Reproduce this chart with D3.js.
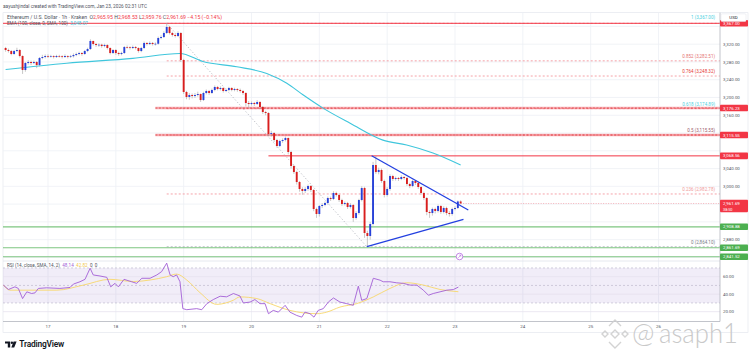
<!DOCTYPE html>
<html><head><meta charset="utf-8">
<script src="https://cdn.jsdelivr.net/npm/d3@7"></script>
<style>html,body{margin:0;padding:0;background:#fff;}svg{display:block;font-family:Roboto,"Liberation Sans",sans-serif;}text{white-space:pre;}</style>
</head><body><svg id="c" width="749" height="357"></svg>
<script>
// ---------- DATA ----------
const firstHour = -15;            // first candle: Jan 16 09:00 UTC (hours from Jan 17 00:00)
const firstOpen = 3311.4;
const closes = [
 3306.9,3304.6,3297.9,3304.6,3306.9,3293.4,3261.9,3277.6,3279.9,3277.6,3279.9,3273.1,3288.9,3291.1,3293.4,
 3292.5,3293.0,3291.1,3293.4,3292.8,3291.1,3293.4,3291.5,3293.0,3295.6,3297.9,3300.1,3297.9,3304.6,3309.1,3327.2,3320.4,3318.1,3318.8,3315.9,3318.1,3311.4,3300.1,3306.9,
 3300.1,3297.9,3300.1,3313.6,3313.0,3311.4,3313.6,3311.4,3304.6,3311.4,3322.7,3320.4,3322.7,3320.4,3321.0,3333.9,3336.1,3345.2,3358.7,3345.2,3340.7,3338.4,3345.2,3284.4,
 3212.4,3201.1,3205.6,3203.3,3205.6,3207.8,3194.3,3210.1,3214.6,3210.1,3216.9,3223.6,3219.1,3221.4,3214.6,3216.9,3221.4,3216.9,3219.1,3216.9,3214.6,3210.1,3187.6,3185.3,
 3187.6,3185.3,3189.8,3178.6,3167.3,3165.1,3117.8,3120.0,3104.3,3090.8,3102.0,3104.3,3108.8,3077.3,3045.8,3032.2,3009.7,2994.0,2989.5,2994.0,3000.7,2991.7,2949.0,2937.7,
 2955.7,2958.0,2962.5,2973.7,2971.5,2985.0,2980.5,2969.2,2960.2,2962.5,2953.5,2958.0,2928.7,2939.9,2969.2,2996.2,2894.9,2888.2,2915.2,3048.0,3032.2,3036.8,3012.0,2980.5,
 2994.0,3023.2,3016.5,3018.7,3016.5,3021.0,3018.7,3005.2,3000.7,3012.0,3007.5,2998.5,2985.0,2973.7,2942.2,2939.9,2949.0,2944.5,2955.7,2942.2,2951.2,2939.9,2937.7,2949.0,
 2951.2,2965.95,2961.69];
const highs = [
 3314,3310,3307,3307,3312,3309,3295,3280,3284,3283,3283,3282,3291,3296,3297,
 3297,3296,3295,3296,3296,3295,3297,3295,3296,3299,3301,3303,3302,3307,3312,3331,3328,3323,3322,3321,3321,3320,3313,3309,
 3309,3303,3303,3316,3317,3315,3317,3316,3313,3314,3326,3325,3326,3325,3324,3337,3340,3349,3367,3361,3348,3344,3349,3347,
 3287,3215,3210,3209,3210,3213,3209,3213,3218,3217,3220,3227,3226,3225,3223,3220,3224,3223,3222,3221,3220,3217,3212,3192,
 3191,3190,3194,3192,3181,3170,3167,3125,3122,3107,3105,3108,3112,3110,3080,3048,3035,3012,2998,2998,3004,3003,2994,2952,
 2958,2962,2966,2977,2977,2989,2988,2983,2972,2966,2965,2962,2960,2944,2972,3000,2999,2900,2920,3055,3068.6,3042,3040,3015,
 2998,3027,3026,3022,3021,3025,3023,3021,3008,3015,3014,3010,3000,2988,2976,2946,2952,2952,2959,2958,2955,2954,2944,2952,
 2955,2968,2968.53];
const lows = [
 3303,3301,3295,3296,3302,3290,3253,3258,3274,3273,3275,3266,3270,3286,3288,
 3289,3290,3288,3289,3290,3288,3289,3288,3289,3290,3293,3295,3294,3296,3302,3307,3317,3314,3314,3312,3313,3308,3297,3298,
 3296,3294,3295,3298,3310,3308,3309,3308,3301,3302,3309,3317,3318,3317,3317,3319,3331,3334,3343,3342,3337,3335,3336,3280,
 3208,3196,3195,3198,3199,3202,3190,3192,3207,3206,3208,3214,3216,3216,3211,3212,3214,3214,3214,3213,3211,3206,3180,3176,
 3182,3181,3183,3175,3163,3160,3113,3112,3100,3087,3088,3098,3101,3072,3040,3028,3004,2988,2981,2985,2990,2987,2944,2929,
 2932,2951,2955,2959,2967,2969,2977,2965,2956,2957,2949,2950,2920,2925,2936,2966,2884,2864.1,2880,2912,3028,3027,3008,2975,
 2977,2990,3012,3013,3012,3014,3015,3001,2996,2998,3003,2994,2981,2969,2935,2929,2934,2939,2941,2938,2939,2935,2932,2934,
 2946,2949,2959.76];

const emaHours  = [-15, 6.6, 30, 46.7, 54.8, 66.8, 77.4, 84.5, 90.2, 97.3, 106.9, 118.5, 126.9, 136.2, 146];
const emaValues = [3263, 3277, 3288, 3299, 3281, 3269, 3254, 3232, 3206, 3176, 3142, 3104, 3093, 3075, 3048.07];

const rsiHours = [-15.8,-14,-11.7,-10.5,-9,-7.5,-5.8,-4.6,-3.4,-0.5,4.2,7.8,9,11.3,13.1,14.9,16,18.4,20.8,22.2,
 23.7,24.9,26.9,29.6,31.4,33.2,36.1,38.5,40.2,42,43.2,44.3,45.5,46.7,47.7,49.1,52.6,54.4,56.2,58.5,
 60.9,63.2,65.6,67.9,69.1,71.5,73.2,75,76.8,78,79.7,81.5,83.9,85.6,88,89.8,90.9,92.7,94.1,95.6,
 97.4,99.2,101,103.3,105.7,108,109.8,111,112.8,115.1,117.5,118.6,121,123.4,125.7,128.1,130.5,132.8,134.6,136.3,
 138.7,141.1,143.4,145.2];
const rsiValues = [50.4,45.4,48.4,46.6,35,42.7,40.8,41.5,46.6,47.3,46.6,47.7,51.6,54.2,57,69.7,62,60.8,59.3,48.4,
 52.4,48.4,57,54.2,52.4,58.2,58.2,62,65.8,75.5,62,60,62,54.2,23.5,22.3,23.5,22.3,29.2,33.9,
 37.7,37,40.8,38,30,31,33.9,29.2,29.2,17.7,21.5,19.5,27.3,19.5,15.7,13.8,19.5,17.7,13.8,21.5,
 23.5,31.1,35.7,31,29.2,27.3,49.2,33,35,58.2,56,54.2,54.2,53,52.4,50.4,50.4,44.6,38.8,40.8,
 42.7,44.6,45.3,48.14];
const rsiMaHours  = [-15.8,-13.4,-2.8,3.1,12.5,21.9,30.2,36.1,42,45.5,49.1,53.8,59.7,65.5,67.9,73.9,78.6,85.6,95.1,98.6,103.3,109.2,115.1,121,126.9,132.8,138.7,145.2];
const rsiMaValues = [50.4,44.6,44.6,44.6,50.4,57,54.5,56.2,60,63,56.2,41.7,28.4,33,36.9,35,29.2,21.5,17.7,19.5,25.3,29.2,36.9,46.6,53.1,50.4,45.4,42.82];

const dayHours  = [0,24,48,72,96,120,144,168,192,216];
const dayLabels = ["17","18","19","20","21","22","23","24","25","26"];
const priceTicks = [2840,2880,2920,2960,3000,3040,3080,3120,3160,3200,3240,3280,3320,3360];
const rsiTicks = [20,40,60];
const rsiDashed = [30,50,70];

const fibRatios = ["1","0.852","0.764","0.618","0.5","0.236","0"];
const fibPrices = [3367.00,3282.51,3248.32,3174.89,3115.55,2982.78,2864.10];
const fibLabelColors = ["#4dd0e1","#e57373","#e53935","#4dd0e1","#9c5b6e","#ef9a9a","#787b86"];
const fibStartHour = 42;
const diagFrom = [42, 3367.00], diagTo = [112.8, 2864.10];

const redBandPrices = [3176.23, 3115.55];
const redBandStartHour = 38;
const redLinePrice = 3068.56, redLineStartHour = 78;
const topLinePrice = 3367.00;
const greenPrices = [2908.88, 2861.69, 2841.52];
const triUpper = [[114.5, 3068.9],[148.7, 2946.7]];
const triLower = [[112.8, 2864.1],[147, 2925.7]];
const lastPrice = 2961.69, countdown = "38:50";

// ---------- LAYOUT ----------
const svg = d3.select("#c");
const L = 3, R = 720, pTop = 12.7, pBot = 261, rBot = 321.5;
const RED = "#f23645", GREEN = "#66bb6a", BLUE_UP = "#2741d8", RED_DN = "#d91e1e";
const x = d3.scaleLinear().domain([0,144]).range([48,455]);
const y = d3.scaleLinear().domain([2864.10,3367]).range([246.7,23.3]);
const yr = d3.scaleLinear().domain([20,60]).range([311.7,276.7]);
const fmt = d3.format(",.2f");

svg.append("rect").attr("width",749).attr("height",357).attr("fill","#fff");
const defs = svg.append("defs");
defs.append("clipPath").attr("id","cp").append("rect").attr("x",L).attr("y",pTop).attr("width",R-L).attr("height",pBot-pTop);
defs.append("clipPath").attr("id","cr").append("rect").attr("x",L).attr("y",pBot).attr("width",R-L).attr("height",rBot-pBot);

// frame
svg.append("rect").attr("x",L).attr("y",pTop).attr("width",745).attr("height",332.3-pTop).attr("fill","none").attr("stroke","#e0e3eb").attr("stroke-width",0.6);

// grid
const grid = svg.append("g").attr("stroke","#eef0f5").attr("stroke-width",0.8);
grid.selectAll(".v").data(dayHours).join("line").attr("x1",d=>x(d)).attr("x2",d=>x(d)).attr("y1",pTop).attr("y2",rBot);
grid.selectAll(".h").data(priceTicks).join("line").attr("clip-path","url(#cp)").attr("x1",L).attr("x2",R).attr("y1",d=>y(d)).attr("y2",d=>y(d));

// RSI band & lines
svg.append("rect").attr("x",L).attr("width",R-L).attr("y",yr(70)).attr("height",yr(30)-yr(70)).attr("fill","rgba(126,87,194,0.11)");
svg.append("g").selectAll("line").data(rsiTicks).join("line").attr("x1",L).attr("x2",R).attr("y1",d=>yr(d)).attr("y2",d=>yr(d)).attr("stroke","#e6e1ee").attr("stroke-width",0.8);
svg.append("g").selectAll("line").data(rsiDashed).join("line").attr("x1",L).attr("x2",R).attr("y1",d=>yr(d)).attr("y2",d=>yr(d)).attr("stroke","#b9b3c6").attr("stroke-width",0.6).attr("stroke-dasharray","2,2");
svg.append("line").attr("x1",L).attr("x2",R).attr("y1",pBot).attr("y2",pBot).attr("stroke","#e0e3eb").attr("stroke-width",0.8);

const P = svg.append("g").attr("clip-path","url(#cp)");

// fib dotted lines
P.selectAll(".fib").data(fibPrices).join("line").attr("x1",x(fibStartHour)).attr("x2",R).attr("y1",d=>y(d)).attr("y2",d=>y(d))
 .attr("stroke",(d,i)=>i===6?"#b0b3bc":"#f28b93").attr("stroke-width",0.8).attr("stroke-dasharray","2,2");
// red bands
P.selectAll(".band").data(redBandPrices).join("line").attr("x1",x(redBandStartHour)).attr("x2",R).attr("y1",d=>y(d)).attr("y2",d=>y(d))
 .attr("stroke",RED).attr("stroke-opacity",0.4).attr("stroke-width",2.6);
P.selectAll(".bandc").data(redBandPrices).join("line").attr("x1",x(redBandStartHour)).attr("x2",R).attr("y1",d=>y(d)).attr("y2",d=>y(d))
 .attr("stroke","#d32f2f").attr("stroke-width",0.7).attr("stroke-dasharray","2,1.5");
P.append("line").attr("x1",x(redLineStartHour)).attr("x2",R).attr("y1",y(redLinePrice)).attr("y2",y(redLinePrice)).attr("stroke",RED).attr("stroke-width",1);
P.append("line").attr("x1",L).attr("x2",R).attr("y1",y(topLinePrice)).attr("y2",y(topLinePrice)).attr("stroke",RED).attr("stroke-width",1);
P.selectAll(".grn").data(greenPrices).join("line").attr("x1",L).attr("x2",R).attr("y1",d=>y(d)).attr("y2",d=>y(d)).attr("stroke",GREEN).attr("stroke-opacity",0.85).attr("stroke-width",1.2);
// diagonal
P.append("line").attr("x1",x(diagFrom[0])).attr("y1",y(diagFrom[1])).attr("x2",x(diagTo[0])).attr("y2",y(diagTo[1]))
 .attr("stroke","#a9acb5").attr("stroke-width",0.8).attr("stroke-dasharray","1.2,2");

// EMA
P.append("path").datum(emaHours.map((h,i)=>[h,emaValues[i]])).attr("fill","none").attr("stroke","#3fc6dc").attr("stroke-width",1.1)
 .attr("d",d3.line().x(d=>x(d[0])).y(d=>y(d[1])).curve(d3.curveMonotoneX));

// candles
const candles = closes.map((c,i)=>({h:firstHour+i, o: i===0?firstOpen:closes[i-1], c, hi:highs[i], lo:lows[i]}));
P.selectAll(".wick").data(candles).join("line").attr("x1",d=>x(d.h)).attr("x2",d=>x(d.h)).attr("y1",d=>y(d.hi)).attr("y2",d=>y(d.lo))
 .attr("stroke","#a3a3a3").attr("stroke-width",0.6);
P.selectAll(".body").data(candles).join("rect").attr("x",d=>x(d.h)-0.95).attr("width",1.9)
 .attr("y",d=>y(Math.max(d.o,d.c))).attr("height",d=>Math.max(0.7,Math.abs(y(d.o)-y(d.c))))
 .attr("fill",d=>d.c>=d.o?BLUE_UP:RED_DN);

// current price dotted line
P.append("line").attr("x1",x(146)).attr("x2",R).attr("y1",y(lastPrice)).attr("y2",y(lastPrice)).attr("stroke",RED).attr("stroke-width",0.6).attr("stroke-dasharray","1,1.5").attr("opacity",0.7);

// triangle
[triUpper,triLower].forEach(t=>P.append("line").attr("x1",x(t[0][0])).attr("y1",y(t[0][1])).attr("x2",x(t[1][0])).attr("y2",y(t[1][1])).attr("stroke","#2340e0").attr("stroke-width",1.3));

// event icon
const ev = svg.append("g").attr("transform",`translate(${x(145.6)},${y(2842)})`);
ev.append("circle").attr("r",3.3).attr("fill","#fff").attr("stroke","#b56be0").attr("stroke-width",0.8);
ev.append("path").attr("d","M-1.3,1.4 L1.3,-1.4 M-0.3,-1.4 L1.3,-1.4 L1.3,0.2").attr("stroke","#b56be0").attr("stroke-width",0.6).attr("fill","none");

// fib labels
svg.selectAll(".fl").data(fibPrices).join("text").attr("x",715).attr("y",(d,i)=>y(d)-(i===0?4:2.6)).attr("text-anchor","end")
 .attr("font-size",4.5).attr("fill",(d,i)=>fibLabelColors[i]).text((d,i)=>`${fibRatios[i]} (${fmt(d)})`);

// RSI lines
const RG = svg.append("g").attr("clip-path","url(#cr)");
RG.append("path").datum(rsiMaHours.map((h,i)=>[h,rsiMaValues[i]])).attr("fill","none").attr("stroke","#f7d76a").attr("stroke-width",0.9)
 .attr("d",d3.line().x(d=>x(d[0])).y(d=>yr(d[1])).curve(d3.curveMonotoneX));
RG.append("path").datum(rsiHours.map((h,i)=>[h,rsiValues[i]])).attr("fill","none").attr("stroke","#a35fd6").attr("stroke-width",0.9)
 .attr("d",d3.line().x(d=>x(d[0])).y(d=>yr(d[1])));

// axes lines
svg.append("line").attr("x1",R).attr("x2",R).attr("y1",pTop).attr("y2",rBot).attr("stroke","#b2b5be").attr("stroke-width",0.8);
svg.append("line").attr("x1",L).attr("x2",R).attr("y1",rBot).attr("y2",rBot).attr("stroke","#b2b5be").attr("stroke-width",0.8);

// time labels
svg.selectAll(".tl").data(dayHours).join("text").attr("x",d=>x(d)).attr("y",328.3).attr("text-anchor","middle").attr("font-size",4.4).attr("fill","#50535e").text((d,i)=>dayLabels[i]);

// price labels (skip those hidden behind boxes)
const boxPrices = redBandPrices.concat([redLinePrice, lastPrice, topLinePrice], greenPrices);
svg.selectAll(".pl").data(priceTicks.filter(p=>boxPrices.every(b=>Math.abs(y(b)-y(p))>6.5))).join("text")
 .attr("x",723).attr("y",d=>y(d)+1.6).attr("font-size",4.4).attr("fill","#50535e").text(d=>fmt(d));
svg.selectAll(".rl").data(rsiTicks).join("text").attr("x",723).attr("y",d=>yr(d)+1.6).attr("font-size",4.4).attr("fill","#50535e").text(d=>fmt(d));

// boxes
function box(price,color){
  const g = svg.append("g");
  g.append("rect").attr("x",R).attr("y",y(price)-3.3).attr("width",28).attr("height",6.6).attr("rx",0.8).attr("fill",color);
  g.append("text").attr("x",723).attr("y",y(price)+1.6).attr("font-size",4.4).attr("fill","#fff").text(fmt(price));
}
box(topLinePrice,RED);
redBandPrices.forEach(p=>box(p,RED));
box(redLinePrice,RED);
greenPrices.forEach(p=>box(p,"#4caf50"));
svg.append("rect").attr("x",R).attr("y",y(lastPrice)-3.6).attr("width",28).attr("height",12.4).attr("rx",0.8).attr("fill",RED);
svg.append("text").attr("x",723).attr("y",y(lastPrice)+1.5).attr("font-size",4.4).attr("fill","#fff").text(fmt(lastPrice));
svg.append("text").attr("x",723).attr("y",y(lastPrice)+7.2).attr("font-size",3.8).attr("fill","#fff").text(countdown);
// USD
svg.append("rect").attr("x",721).attr("y",13.8).attr("width",25).attr("height",7.6).attr("rx",1).attr("fill","#fff").attr("stroke","#e0e3eb").attr("stroke-width",0.5);
svg.append("text").attr("x",733.5).attr("y",19.3).attr("text-anchor","middle").attr("font-size",4.4).attr("fill","#131722").text("USD");

// header & legends
svg.append("text").attr("x",3).attr("y",7.6).attr("font-size",5).attr("fill","#50535e").attr("textLength",144).attr("lengthAdjust","spacingAndGlyphs")
 .text("aayushjindal created with TradingView.com, Jan 23, 2026 02:31 UTC");
const lg1 = [["Ethereum / U.S. Dollar · 1h · Kraken  ","#50535e"],["O","#50535e"],["2,965.95 ",RED],["H","#50535e"],["2,968.53 ",RED],
  ["L","#50535e"],["2,959.76 ",RED],["C","#50535e"],["2,961.69 ",RED],["−4.15 (−0.14%)",RED]];
const t1 = svg.append("text").attr("x",7).attr("y",18.6).attr("font-size",4.6).attr("textLength",215).attr("lengthAdjust","spacingAndGlyphs");
lg1.forEach(s=>t1.append("tspan").attr("fill",s[1]).text(s[0]));
const t2 = svg.append("text").attr("x",7).attr("y",25.2).attr("font-size",4.6);
t2.append("tspan").attr("fill","#50535e").text("EMA (100, close, 0, SMA, 100)  ");
t2.append("tspan").attr("fill","#3fc6dc").text("3,048.07");
const t3 = svg.append("text").attr("x",7).attr("y",267.4).attr("font-size",4.6);
t3.append("tspan").attr("fill","#50535e").text("RSI (14, close, SMA, 14, 2)  ");
t3.append("tspan").attr("fill","#a35fd6").text("48.14  ");
t3.append("tspan").attr("fill","#f2c94c").text("42.82  ");
t3.append("tspan").attr("fill","#50535e").text("0  0");

// TradingView logo
const lg = svg.append("g").attr("fill","#131722");
lg.append("path").attr("d","M5,341.6 H10.2 V347.4 H7.8 V343.6 H5 Z");
lg.append("circle").attr("cx",11.9).attr("cy",342.8).attr("r",1.2);
lg.append("path").attr("d","M13.6,341.6 H16.6 L14.2,347.4 H11.3 Z");
svg.append("text").attr("x",19.3).attr("y",347.4).attr("font-size",8.4).attr("font-weight",600).attr("fill","#131722").attr("letter-spacing",-0.2).text("TradingView");

// watermark
const wm = svg.append("g").attr("fill","none").attr("stroke","#cfcfcf").attr("stroke-width",1.4).attr("opacity",0.9);
const c0=[615,334];
wm.append("path").attr("d",`M${c0[0]},${c0[1]-4} l4,4 l-4,4 l-4,-4 Z`);
wm.append("path").attr("d",`M${c0[0]-10},${c0[1]-3} l3,3 l-3,3 l-3,-3 Z`);
wm.append("path").attr("d",`M${c0[0]+10},${c0[1]-3} l3,3 l-3,3 l-3,-3 Z`);
wm.append("path").attr("d",`M${c0[0]-6},${c0[1]-8} l6,-6 l6,6`);
wm.append("path").attr("d",`M${c0[0]-6},${c0[1]+8} l6,6 l6,-6`);
svg.append("text").attr("x",632).attr("y",343).attr("font-size",27).attr("font-family","Lato, 'Open Sans', sans-serif").attr("font-weight",300).attr("fill","#c9c9c9").text("@");
svg.append("text").attr("x",659).attr("y",343).attr("font-size",27).attr("font-family","Lato, 'Open Sans', sans-serif").attr("font-weight",300).attr("fill","#c9c9c9")
 .attr("textLength",79).attr("lengthAdjust","spacingAndGlyphs").text("asaph1");
</script></body></html>
